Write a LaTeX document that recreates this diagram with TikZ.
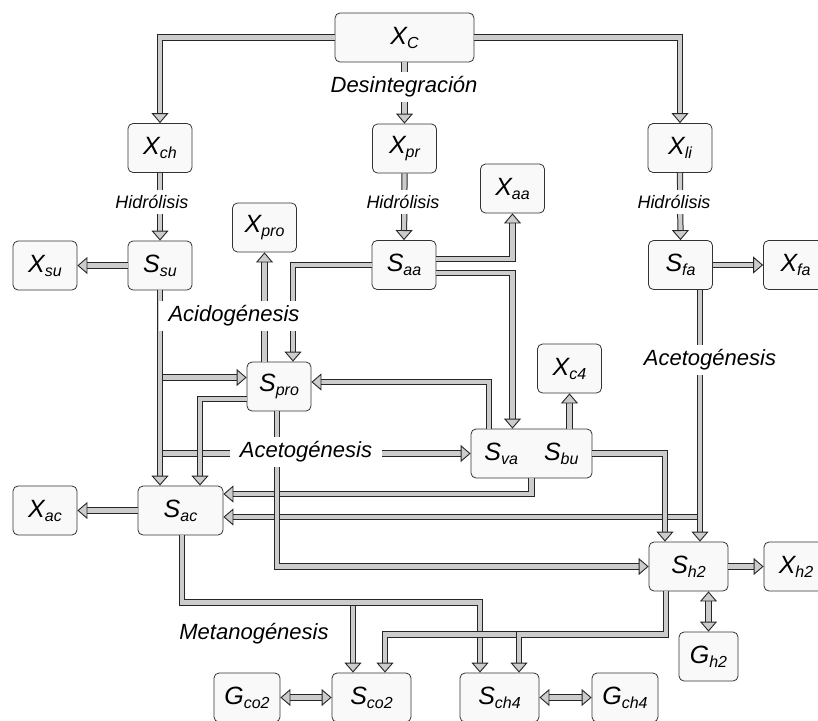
\documentclass[tikz,border=0pt]{standalone}
\usepackage{fontspec}
\setmainfont{Liberation Sans}
\usetikzlibrary{arrows.meta}

\newcommand{\vsub}[2]{#1\raisebox{-4pt}{\fontsize{16}{16}\selectfont #2}}

\tikzset{
  box/.style={draw=black!80, line width=0.8pt, fill=gray!5, rounded corners=5pt,
    minimum width=64pt, minimum height=49pt, inner sep=0pt,
    font=\fontsize{25}{25}\selectfont\itshape},
  shaft/.style={draw=gray!40, line width=4.2pt,
    preaction={draw=black!85, line width=6.2pt}},
  head/.style={draw=black!85, line width=0.9pt, shorten >=0pt, shorten <=0pt,
    dash pattern=on 0pt off 10000pt},
  flow/.style={shaft, shorten >=10pt,
    postaction={head, -{Triangle[width=17pt,length=10pt,fill=gray!40]}}},
  flowboth/.style={shaft, shorten >=10pt, shorten <=10pt,
    postaction={head, {Triangle[width=17pt,length=10pt,fill=gray!40]}-{Triangle[width=17pt,length=10pt,fill=gray!40]}}},
  stage/.style={fill=white, inner xsep=10pt, inner ysep=5pt,
    font=\fontsize{22}{22}\selectfont\itshape},
  hydro/.style={stage, inner xsep=6pt, font=\fontsize{18}{18}\selectfont\itshape}
}

\begin{document}
\begin{tikzpicture}[x=1pt, y=-1pt]
\useasboundingbox (0,0) rectangle (818,720);

% particulate and soluble components
\node[box, minimum width=139pt] (Xc) at (404.5,37.5) {\vsub{X}{C}};
\node[box] (Xch) at (160,148) {\vsub{X}{ch}};
\node[box] (Xpr) at (404.5,148.5) {\vsub{X}{pr}};
\node[box] (Xli) at (680,148) {\vsub{X}{li}};
\node[box] (Xaa) at (512.5,188.5) {\vsub{X}{aa}};
\node[box] (Xpro) at (264.5,227.5) {\vsub{X}{pro}};
\node[box] (Xsu) at (45,265.5) {\vsub{X}{su}};
\node[box] (Ssu) at (160,265.5) {\vsub{S}{su}};
\node[box] (Saa) at (404,265) {\vsub{S}{aa}};
\node[box] (Sfa) at (680.5,265) {\vsub{S}{fa}};
\node[box] (Xfa) at (795.5,265) {\vsub{X}{fa}};
\node[box] (Xcf) at (569.5,368.5) {\vsub{X}{c4}};
\node[box] (Spro) at (279,386.5) {\vsub{S}{pro}};
\node[box, minimum width=121pt] (Svb) at (531.5,453.5) {\vsub{S}{va}\hspace{26pt}\vsub{S}{bu}};
\node[box] (Xac) at (45,510.5) {\vsub{X}{ac}};
\node[box, minimum width=85pt] (Sac) at (180.5,510.5) {\vsub{S}{ac}};
\node[box, minimum width=79pt] (Sh2) at (688.5,566.5) {\vsub{S}{h2}};
\node[box] (Xh2) at (796,566.5) {\vsub{X}{h2}};
\node[box, minimum width=59pt] (Gh2) at (708.5,656.5) {\vsub{G}{h2}};
\node[box, minimum width=66pt] (Gco2) at (247,697.5) {\vsub{G}{co2}};
\node[box, minimum width=79pt] (Sco2) at (371.5,697.5) {\vsub{S}{co2}};
\node[box, minimum width=79pt] (Sch4) at (499.5,697.5) {\vsub{S}{ch4}};
\node[box, minimum width=66pt] (Gch4) at (625,697.5) {\vsub{G}{ch4}};

% disintegration and hydrolysis
\draw[flow] (Xc.west) -| (Xch.north);
\draw[flow] (Xc.south) -- (Xpr.north);
\draw[flow] (Xc.east) -| (Xli.north);
\draw[flow] (Xch.south) -- (Ssu.north);
\draw[flow] (Xpr.south) -- (Saa.north);
\draw[flow] (Xli.south) -- (Sfa.north);

% uptake and biomass
\draw[flow] (Ssu.west) -- (Xsu.east);
\draw[flow] (Sfa.east) -- (Xfa.east -| Xfa.west);
\draw[flow] ([yshift=6pt]Saa.east) -| (Xaa.south);
\draw[flow] ([yshift=-8pt]Saa.east) -| (Xaa |- Svb.north);
\draw[flow] (Saa.west) -| ([xshift=14pt]Spro.north);
\draw[flow] (Spro.north -| Xpro) -- (Xpro.south);
\draw[flow] (Svb.north -| Xcf) -- (Xcf.south);
\draw[flow] (Sac.west) -- (Xac.east);
\draw[flow] (Sh2.east) -- (Xh2.west);

% acidogenesis
\draw[flow] (Ssu.south) |- ([yshift=9pt]Spro.west);
\draw[flow] (Ssu.south) |- (Svb.west);
\draw[flow] (Ssu.south) -- (Ssu |- Sac.north);
\draw[flow] ([yshift=-12.5pt]Spro.west) -| ([xshift=19.5pt]Sac.north);
\draw[flow] ([xshift=-42.5pt]Svb.north) |- ([yshift=4.5pt]Spro.east);

% acetogenesis
\coordinate (fa) at ([xshift=19.5pt]Sfa.south);
\draw[flow] (Svb.south) |- ([yshift=16.5pt]Sac.east);
\draw[flow] (fa) |- ([yshift=-6.5pt]Sac.east);
\draw[flow] (fa) -- (fa |- Sh2.north);
\draw[flow] (Svb.east) -| ([xshift=-23.5pt]Sh2.north);
\draw[flow] ([xshift=-2pt]Spro.south) |- (Sh2.west);

% methanogenesis
\draw[flow] ([xshift=1.5pt]Sac.south) -- ++(0,67) -| ([xshift=-18.5pt]Sco2.north);
\draw[flow] ([xshift=1.5pt]Sac.south) -- ++(0,67) -| ([xshift=-19.5pt]Sch4.north);
\draw[flow] ([xshift=-22.5pt]Sh2.south) -- ++(0,43) -| ([xshift=13.5pt]Sco2.north);
\draw[flow] ([xshift=-22.5pt]Sh2.south) -- ++(0,43) -| ([xshift=19.5pt]Sch4.north);

% gas transfer
\draw[flowboth] (Sh2.south -| Gh2) -- (Gh2.north);
\draw[flowboth] (Gco2.east) -- (Sco2.west);
\draw[flowboth] (Sch4.east) -- (Gch4.west);

% process names
\node[stage] (lblDes) at (404,87) {Desintegración};
\node[hydro] (lblHid1) at (152,202) {Hidrólisis};
\node[hydro] (lblHid2) at (403,202) {Hidrólisis};
\node[hydro] (lblHid3) at (674,202) {Hidrólisis};
\node[stage] (lblAcid) at (234,316) {Acidogénesis};
\node[stage] (lblAcet1) at (306,452) {Acetogénesis};
\node[stage] (lblAcet2) at (710,360) {Acetogénesis};
\node[stage] (lblMet) at (254,634) {Metanogénesis};
\end{tikzpicture}
\end{document}
